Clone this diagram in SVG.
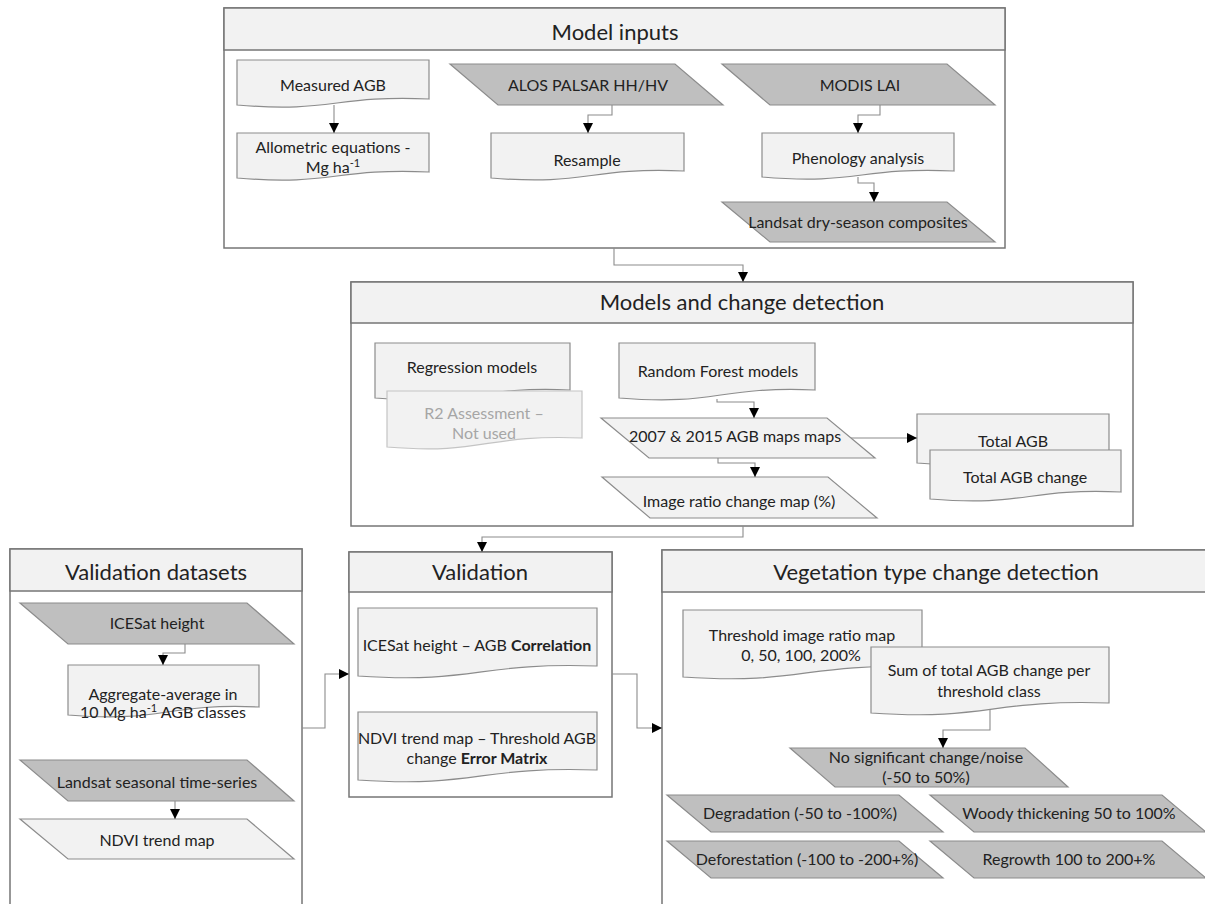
<svg xmlns="http://www.w3.org/2000/svg" width="1205" height="904" viewBox="0 0 1205 904">
<style>
text{font-family:Lato,"Open Sans","Liberation Sans",sans-serif;fill:#222;text-anchor:middle;font-size:16px}
.title{font-size:22px}
.cont{fill:#fff;stroke:#767676;stroke-width:1.5}
.head{fill:#f2f2f2;stroke:#767676;stroke-width:1.5}
.lt{fill:#f2f2f2;stroke:#8c8c8c;stroke-width:1.2}
.dk{fill:#bfbfbf;stroke:#8c8c8c;stroke-width:1.2}
.faint{fill:#f2f2f2;stroke:#c4c4c4;stroke-width:1.2}
.ftxt{fill:#a6a6a6}
.con{fill:none;stroke:#8c8c8c;stroke-width:1.1;marker-end:url(#arr)}
.b{font-weight:bold}
</style>
<defs>
<marker id="arr" markerUnits="userSpaceOnUse" markerWidth="10" markerHeight="10" refX="10" refY="5" orient="auto">
<path d="M0,0 L10,5 L0,10 Z" fill="#000"/>
</marker>
</defs>
<rect x="0" y="0" width="1205" height="904" fill="#fff"/>

<!-- Containers -->
<g id="model-inputs">
<rect class="cont" x="224" y="8" width="781" height="240"/>
<rect class="head" x="224" y="8" width="781" height="42"/>
<text class="title" x="615" y="40">Model inputs</text>
</g>
<g id="models-change-detection">
<rect class="cont" x="351" y="282" width="782" height="244"/>
<rect class="head" x="351" y="282" width="782" height="41"/>
<text class="title" x="742" y="310">Models and change detection</text>
</g>
<g id="validation-datasets">
<rect class="cont" x="10" y="549" width="292" height="370"/>
<rect class="head" x="10" y="549" width="292" height="42"/>
<text class="title" x="156" y="580">Validation datasets</text>
</g>
<g id="validation">
<rect class="cont" x="349" y="552" width="263" height="245"/>
<rect class="head" x="349" y="552" width="263" height="40"/>
<text class="title" x="480" y="580">Validation</text>
</g>
<g id="vegetation-change">
<rect class="cont" x="662" y="550" width="560" height="370"/>
<rect class="head" x="662" y="550" width="560" height="42"/>
<text class="title" x="936" y="580">Vegetation type change detection</text>
</g>

<!-- Model inputs nodes -->
<g id="measured-agb">
<path class="lt" d="M237,60 H429 V99 C333,95 333,113 237,105 Z"/>
<text x="333" y="90.5">Measured AGB</text>
</g>
<g id="allometric">
<path class="lt" d="M237,133 H429 V172 C333,168 333,186 237,178 Z"/>
<text x="333" y="152.5">Allometric equations -</text>
<text x="333" y="172.5">Mg ha<tspan dy="-6" font-size="11">-1</tspan></text>
</g>
<g id="alos">
<polygon class="dk" points="450,64 675,64 723,105 498,105"/>
<text x="588" y="90.5">ALOS PALSAR HH/HV</text>
</g>
<g id="resample">
<path class="lt" d="M491,133 H684 V171 C587.5,167 587.5,186 491,178 Z"/>
<text x="587" y="165.5">Resample</text>
</g>
<g id="modis">
<polygon class="dk" points="722,64 947,64 995,105 770,105"/>
<text x="860" y="90.5">MODIS LAI</text>
</g>
<g id="phenology">
<path class="lt" d="M762,133 H954 V171 C858,167 858,185 762,177 Z"/>
<text x="858" y="163.5">Phenology analysis</text>
</g>
<g id="landsat-dry">
<polygon class="dk" points="722,202 947,202 995,242 770,242"/>
<text x="858" y="227.5">Landsat dry-season composites</text>
</g>

<!-- Models nodes -->
<g id="regression">
<path class="lt" d="M375,343 H570 V390 C472.5,386 472.5,406 375,398 Z"/>
<text x="472" y="372.5">Regression models</text>
</g>
<g id="r2">
<path class="faint" d="M387,391 H582 V438 C484.5,434 484.5,455 387,447 Z"/>
<text class="ftxt" x="484" y="418.5">R2 Assessment –</text>
<text class="ftxt" x="484" y="438.5">Not used</text>
</g>
<g id="random-forest">
<path class="lt" d="M619,343 H815 V390 C717,386 717,406 619,398 Z"/>
<text x="718" y="376.5">Random Forest models</text>
</g>
<g id="agb-maps">
<polygon class="lt" points="601,418 827,418 875,458 649,458"/>
<text x="735" y="441.5">2007 &amp; 2015 AGB maps maps</text>
</g>
<g id="image-ratio">
<polygon class="lt" points="602,477 828,477 877,518 650,518"/>
<text x="739" y="506.5">Image ratio change map (%)</text>
</g>
<g id="total-agb">
<path class="lt" d="M917,414 H1109 V455 C1013,451 1013,471 917,463 Z"/>
<text x="1013" y="446.5">Total AGB</text>
</g>
<g id="total-agb-change">
<path class="lt" d="M930,450 H1121 V492 C1025.5,488 1025.5,507 930,499 Z"/>
<text x="1025" y="482.5">Total AGB change</text>
</g>

<!-- Validation datasets nodes -->
<g id="icesat">
<polygon class="dk" points="20,603 247,603 294,644 68,644"/>
<text x="157" y="628.5">ICESat height</text>
</g>
<g id="aggregate">
<path class="lt" d="M68,665 H259 V707 C163.5,703 163.5,723 68,715 Z"/>
<text x="163" y="699.5">Aggregate-average in</text>
<text x="163" y="717.5">10 Mg ha<tspan dy="-6" font-size="11">-1</tspan><tspan dy="6"> AGB classes</tspan></text>
</g>
<g id="landsat-seasonal">
<polygon class="dk" points="20,760 247,760 294,801 68,801"/>
<text x="157" y="787.5">Landsat seasonal time-series</text>
</g>
<g id="ndvi-trend">
<polygon class="lt" points="20,819 247,819 294,859 68,859"/>
<text x="157" y="845.5">NDVI trend map</text>
</g>

<!-- Validation nodes -->
<g id="icesat-correlation">
<path class="lt" d="M358,608 H597 V666 C477.5,662 477.5,684 358,676 Z"/>
<text x="477" y="650.5">ICESat height – AGB <tspan class="b">Correlation</tspan></text>
</g>
<g id="ndvi-error-matrix">
<path class="lt" d="M358,712 H597 V770 C477.5,766 477.5,788 358,780 Z"/>
<text x="477" y="743.5">NDVI trend map – Threshold AGB</text>
<text x="477" y="763.5">change <tspan class="b">Error Matrix</tspan></text>
</g>

<!-- Vegetation nodes -->
<g id="threshold">
<path class="lt" d="M683,610 H922 V667 C802.5,663 802.5,685 683,677 Z"/>
<text x="802" y="640.5">Threshold image ratio map</text>
<text x="801" y="660.5">0, 50, 100, 200%</text>
</g>
<g id="sum-change">
<path class="lt" d="M871,647 H1109 V703 C990,699 990,721 871,713 Z"/>
<text x="989" y="675.5">Sum of total AGB change per</text>
<text x="989" y="696.5">threshold class</text>
</g>
<g id="no-change">
<polygon class="dk" points="790,748 1025,748 1068,787 835,787"/>
<text x="926" y="762.5">No significant change/noise</text>
<text x="926" y="782.5">(-50 to 50%)</text>
</g>
<g id="degradation">
<polygon class="dk" points="667,795 899,795 943,832 711,832"/>
<text x="800" y="818.5">Degradation (-50 to -100%)</text>
</g>
<g id="woody">
<polygon class="dk" points="930,795 1162,795 1206,832 974,832"/>
<text x="1069" y="818.5">Woody thickening 50 to 100%</text>
</g>
<g id="deforestation">
<polygon class="dk" points="667,841 899,841 943,878 711,878"/>
<text x="807" y="864.5">Deforestation (-100 to -200+%)</text>
</g>
<g id="regrowth">
<polygon class="dk" points="930,841 1162,841 1206,878 974,878"/>
<text x="1069" y="864.5">Regrowth 100 to 200+%</text>
</g>

<!-- Connectors -->
<g id="connectors">
<polyline class="con" points="334,105 334,133"/>
<polyline class="con" points="612,105 612,115 588,115 588,133"/>
<polyline class="con" points="880,105 880,115 858,115 858,133"/>
<polyline class="con" points="858,177 858,183 874,183 874,202"/>
<polyline class="con" points="614,248 614,265 743,265 743,282"/>
<polyline class="con" points="717,399 717,402 754,402 754,418"/>
<polyline class="con" points="718,458 718,463 755,463 755,477"/>
<polyline class="con" points="851,438 917,438"/>
<polyline class="con" points="743,526 743,537 482,537 482,552"/>
<polyline class="con" points="185,644 185,653 163,653 163,665"/>
<polyline class="con" points="175,801 175,819"/>
<polyline class="con" points="302,728 325,728 325,674 349,674"/>
<polyline class="con" points="612,674 637,674 637,728 662,728"/>
<polyline class="con" points="990,709 990,730 943,730 943,748"/>
</g>
</svg>
